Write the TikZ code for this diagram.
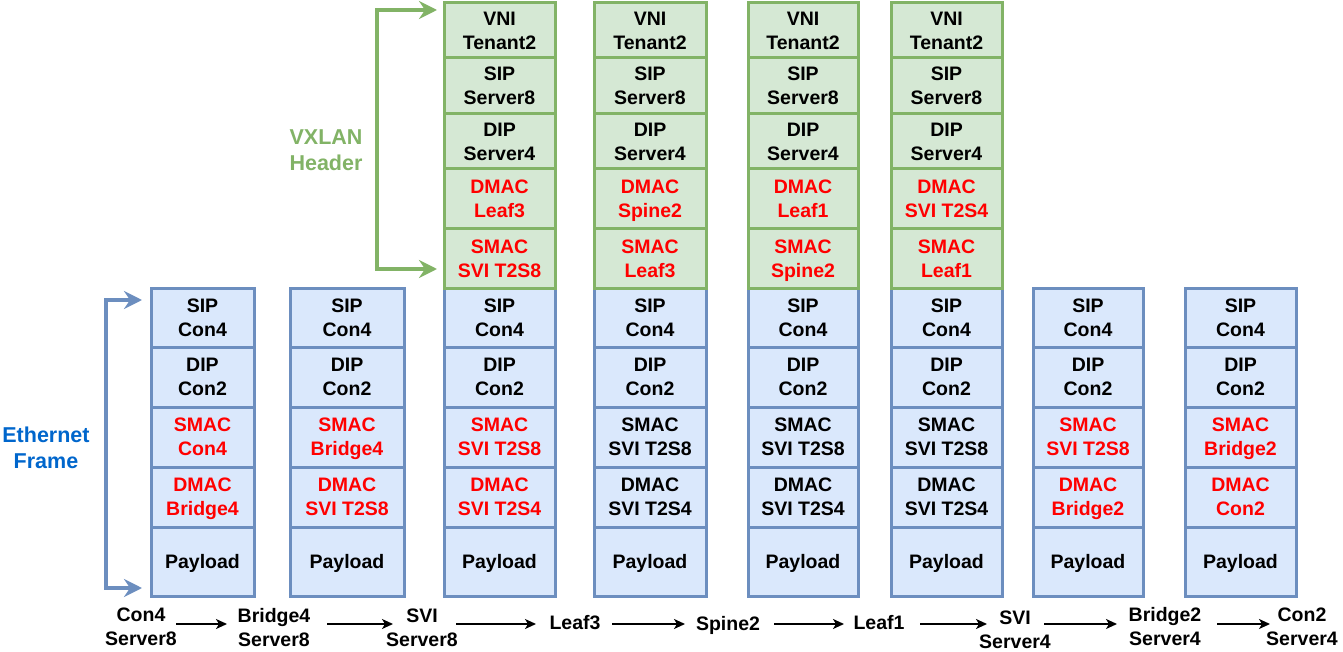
\documentclass[tikz,border=0pt]{standalone}
\usepackage{fontspec}
\setmainfont{Liberation Sans}
\usetikzlibrary{arrows.meta}
\definecolor{ethfill}{HTML}{DAE8FC}
\definecolor{ethline}{HTML}{6C8EBF}
\definecolor{vxfill}{HTML}{D5E8D4}
\definecolor{vxline}{HTML}{82B366}
\definecolor{ethtext}{HTML}{0066CC}
\definecolor{hot}{HTML}{FF0000}

\newcommand\nd[1]{\raisebox{0pt}[\height][0pt]{#1}}

\newcommand\fieldbox[7]{%
  \pgfmathsetmacro\fbw{#4-#3}%
  \pgfmathsetmacro\fbh{#6-#5}%
  \pgfmathsetmacro\fbx{(#3+#4)/2}%
  \pgfmathsetmacro\fby{(#5+#6)/2}%
  \node[#1, minimum width=\fbw pt, minimum height=\fbh pt] (#2) at (\fbx,\fby) {#7};}

\newcommand\ethcol[7]{%
  \fieldbox{eth}{#1sip}{#2}{#3}{288}{347}{SIP\\\nd{Con4}}
  \fieldbox{eth}{#1dip}{#2}{#3}{347}{407}{DIP\\\nd{Con2}}
  \fieldbox{eth,text=#4}{#1smac}{#2}{#3}{407}{467}{SMAC\\\nd{#5}}
  \fieldbox{eth,text=#6}{#1dmac}{#2}{#3}{467}{527}{DMAC\\\nd{#7}}
  \fieldbox{eth}{#1pay}{#2}{#3}{527}{596}{\nd{Payload}}}

\newcommand\vxcol[5]{%
  \fieldbox{vx}{#1vni}{#2}{#3}{3}{58}{VNI\\\nd{Tenant2}}
  \fieldbox{vx}{#1sip}{#2}{#3}{58}{114}{SIP\\\nd{Server8}}
  \fieldbox{vx}{#1dip}{#2}{#3}{114}{169}{DIP\\\nd{Server4}}
  \fieldbox{vx,text=hot}{#1dmac}{#2}{#3}{169}{229}{DMAC\\\nd{#4}}
  \fieldbox{vx,text=hot}{#1smac}{#2}{#3}{229}{288}{SMAC\\\nd{#5}}}

\tikzset{
  txt/.style={font=\fontsize{19.5}{24}\selectfont\bfseries, align=center, inner sep=0pt, outer sep=0pt},
  side/.style={font=\fontsize{21.5}{26}\selectfont\bfseries, align=center, inner sep=0pt, outer sep=0pt},
  eth/.style={txt, draw=ethline, fill=ethfill, line width=3pt},
  vx/.style={txt, draw=vxline, fill=vxfill, line width=3pt},
  lbl/.style={txt, text=black},
  flow/.style={draw=black, line width=1.7pt, -{Stealth[length=11pt,width=10pt,inset=3pt]}},
  brk/.style={line width=3.4pt, {Stealth[length=18pt,width=18pt,inset=6pt]}-{Stealth[length=18pt,width=18pt,inset=6pt]}}
}

\begin{document}
\begin{tikzpicture}[x=1pt,y=-1pt]
\useasboundingbox (0,0) rectangle (1343,652);

% Ethernet frames
\ethcol{e1}{151}{254}{hot}{Con4}{hot}{Bridge4}
\ethcol{e2}{290}{404}{hot}{Bridge4}{hot}{SVI T2S8}
\ethcol{e3}{444}{555}{hot}{SVI T2S8}{hot}{SVI T2S4}
\ethcol{e4}{594}{706}{black}{SVI T2S8}{black}{SVI T2S4}
\ethcol{e5}{748}{858}{black}{SVI T2S8}{black}{SVI T2S4}
\ethcol{e6}{891}{1002}{black}{SVI T2S8}{black}{SVI T2S4}
\ethcol{e7}{1033}{1143}{hot}{SVI T2S8}{hot}{Bridge2}
\ethcol{e8}{1185}{1296}{hot}{Bridge2}{hot}{Con2}

% VXLAN headers
\vxcol{v3}{444}{555}{Leaf3}{SVI T2S8}
\vxcol{v4}{594}{706}{Spine2}{Leaf3}
\vxcol{v5}{748}{858}{Leaf1}{Spine2}
\vxcol{v6}{891}{1002}{SVI T2S4}{Leaf1}

% side labels and brackets
\node[side, text=ethtext] (ethlbl) at (46,447.5) {Ethernet\\Frame};
\node[side, text=vxline] (vxlbl) at (326,150) {VXLAN\\Header};
\coordinate (ebt) at (142,300);
\coordinate (ebb) at (142,588);
\draw[brk, draw=ethline] (ebt) -- ++(-36,0) |- (ebb);
\coordinate (vbt) at (437,10);
\coordinate (vbb) at (437,269);
\draw[brk, draw=vxline] (vbt) -- ++(-60,0) |- (vbb);

% bottom path labels
\node[lbl] (l1) at (141,627) {Con4\\\nd{Server8}};
\node[lbl] (l2) at (274,627) {Bridge4\\\nd{Server8}};
\node[lbl] (l3) at (422,628) {SVI\\\nd{Server8}};
\node[lbl] (l4) at (575,623) {Leaf3};
\node[lbl] (l5) at (728,623) {\nd{Spine2}};
\node[lbl] (l6) at (879,623) {Leaf1};
\node[lbl] (l7) at (1015,630) {SVI\\\nd{Server4}};
\node[lbl] (l8) at (1165,626.5) {Bridge2\\\nd{Server4}};
\node[lbl] (l9) at (1302,626.5) {Con2\\\nd{Server4}};

\coordinate (a1s) at (176,624); \coordinate (a1e) at (227,624);
\coordinate (a2s) at (327,624); \coordinate (a2e) at (393,624);
\coordinate (a3s) at (456,624); \coordinate (a3e) at (536,624);
\coordinate (a4s) at (612,624); \coordinate (a4e) at (685,624);
\coordinate (a5s) at (774,624); \coordinate (a5e) at (844,624);
\coordinate (a6s) at (920,624); \coordinate (a6e) at (987,624);
\coordinate (a7s) at (1044,624); \coordinate (a7e) at (1117,624);
\coordinate (a8s) at (1217,624); \coordinate (a8e) at (1270,624);
\foreach \i in {1,...,8} { \draw[flow] (a\i s) -- (a\i e); }
\end{tikzpicture}
\end{document}
